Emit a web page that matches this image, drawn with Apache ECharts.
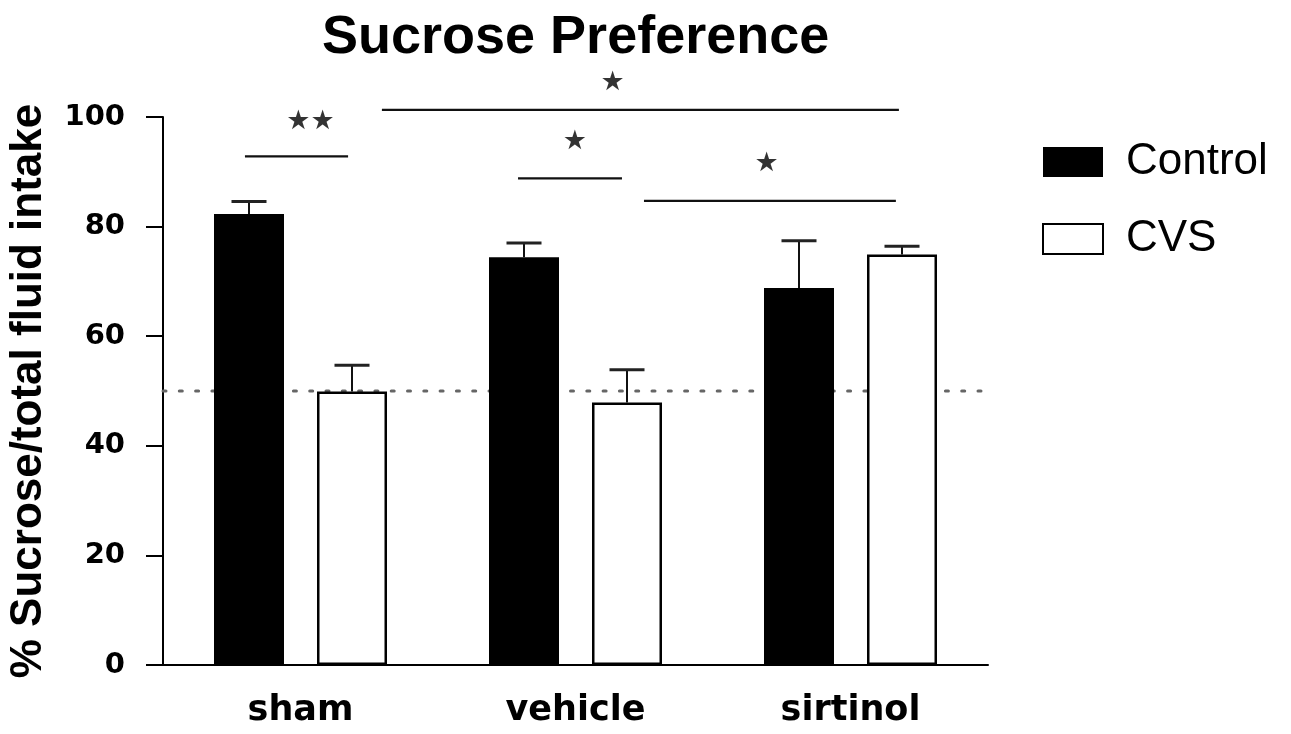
<!DOCTYPE html>
<html><head><meta charset="utf-8">
<script src="https://cdn.jsdelivr.net/npm/echarts@6/dist/echarts.min.js"></script>
<style>html,body{margin:0;padding:0;background:#fff}#c{width:1291px;height:734px}</style>
</head><body><div id="c"></div>
<script>
// ---- data ----
const categories = ['sham', 'vehicle', 'sirtinol'];
const seriesNames = ['Control', 'CVS'];
const controlMean = [82.3, 74.4, 68.8];
const controlSem = [2.3, 2.6, 8.6];
const cvsMean = [49.9, 47.9, 74.9];
const cvsSem = [4.8, 6.0, 1.5];
const yTicks = [0, 20, 40, 60, 80, 100];
const refLevel = 50;
// significance bars: [xStart, xEnd, y] in category units (0..3)
const sigLines = [[0.298, 0.673, 92.8], [0.796, 2.676, 101.3], [1.291, 1.669, 88.8], [1.749, 2.665, 84.7]];
// significance labels: [x, y, text]
const sigStars = [[0.536, 99.1, '★★'], [1.635, 106.2, '★'], [1.498, 95.4, '★'], [2.195, 91.4, '★']];

// ---- style constants ----
const BAR_W = 70, BAR_GAP = 33, CAP = 35;
const chart = echarts.init(document.getElementById('c'), null, {renderer: 'canvas'});

function errSeries(name, means, sems, sign) {
  return {
    type: 'custom', name: name, xAxisIndex: 0, yAxisIndex: 0, z: 4, silent: true, clip: false,
    data: means.map((m, i) => [i, m, m + sems[i]]),
    renderItem: function (params, api) {
      const off = sign * (BAR_W + BAR_GAP) / 2;
      const base = api.coord([api.value(0), api.value(1)]);
      const top = api.coord([api.value(0), api.value(2)]);
      const x = base[0] + off;
      return {type: 'group', children: [
        {type: 'line', shape: {x1: x, y1: base[1], x2: x, y2: top[1]}, style: {stroke: '#111', lineWidth: 2}},
        {type: 'line', shape: {x1: x - CAP / 2, y1: top[1], x2: x + CAP / 2, y2: top[1]}, style: {stroke: '#222', lineWidth: 3}}
      ]};
    }
  };
}

const series = [
  {
    type: 'line', name: 'ref', xAxisIndex: 1, yAxisIndex: 0, z: 1, silent: true,
    data: [[0, refLevel], [3, refLevel]], symbol: 'none',
    lineStyle: {type: [3, 13.3], width: 3, color: '#666', cap: 'round'}
  },
  {
    type: 'bar', name: seriesNames[0], xAxisIndex: 0, data: controlMean, z: 2,
    barWidth: BAR_W, barGap: (BAR_GAP / BAR_W * 100) + '%',
    itemStyle: {color: '#000', borderColor: '#000', borderWidth: 0}
  },
  {
    type: 'bar', name: seriesNames[1], xAxisIndex: 0, data: cvsMean, z: 2,
    barWidth: BAR_W,
    itemStyle: {color: '#fff', borderColor: '#000', borderWidth: 2.5}
  },
  errSeries('errControl', controlMean, controlSem, -1),
  errSeries('errCVS', cvsMean, cvsSem, 1)
];
sigLines.forEach((s, i) => {
  series.push({
    type: 'line', name: 'sig' + i, xAxisIndex: 1, yAxisIndex: 0, z: 3, silent: true, clip: false,
    data: [[s[0], s[2]], [s[1], s[2]]], symbol: 'none',
    lineStyle: {width: 2.2, color: '#111'}
  });
});
series.push({
  type: 'scatter', name: 'stars', xAxisIndex: 1, yAxisIndex: 0, z: 3, silent: true, clip: false,
  data: sigStars.map(s => [s[0], s[1], s[2]]),
  symbolSize: 1, itemStyle: {color: 'rgba(0,0,0,0)'},
  label: {show: true, position: 'inside', formatter: p => p.value[2], offset: [0, 0],
    fontFamily: 'DejaVu Sans', fontSize: 27, color: '#000'}
});

chart.setOption({
  animation: false,
  backgroundColor: '#fff',
  title: {
    text: 'Sucrose Preference', left: 322, top: 11, padding: 0,
    textStyle: {fontFamily: 'Liberation Sans', fontWeight: 'bold', fontSize: 54, color: '#000'}
  },
  legend: {
    data: seriesNames, orient: 'vertical', left: 1042, top: 140, padding: 0,
    itemWidth: 60, itemHeight: 30, itemGap: 33, icon: 'rect', selectedMode: false,
    textStyle: {fontFamily: 'Liberation Sans', fontSize: 44, color: '#000', padding: [0, 0, 0, 18]}
  },
  grid: {left: 163, top: 117, width: 825, height: 548, containLabel: false, outerBoundsMode: 'none'},
  xAxis: [
    {
      type: 'category', data: categories,
      axisLine: {lineStyle: {color: '#000', width: 2}},
      axisTick: {alignWithLabel: true, length: 14, lineStyle: {color: '#000', width: 2}},
      axisLabel: {margin: 28, color: '#000', fontFamily: 'DejaVu Sans', fontWeight: 'bold', fontSize: 35}
    },
    {type: 'value', min: 0, max: 3, show: false}
  ],
  yAxis: {
    type: 'value', min: yTicks[0], max: yTicks[yTicks.length - 1], interval: yTicks[1] - yTicks[0],
    name: '% Sucrose/total fluid intake', nameLocation: 'middle', nameGap: 112, nameRotate: 90,
    nameTextStyle: {fontFamily: 'Liberation Sans', fontWeight: 'bold', fontSize: 44, color: '#000'},
    axisLine: {show: true, lineStyle: {color: '#000', width: 2}},
    axisTick: {show: true, length: 17, lineStyle: {color: '#000', width: 2}},
    splitLine: {show: false},
    axisLabel: {margin: 38, color: '#000', fontFamily: 'DejaVu Sans', fontWeight: 'bold', fontSize: 29}
  },
  series: series
});

const p0 = chart.convertToPixel({xAxisIndex: 1, yAxisIndex: 0}, [0, 0]);
chart.setOption({graphic: [{
  type: 'line', z: 10, silent: true,
  shape: {x1: p0[0] - 17, y1: p0[1], x2: p0[0], y2: p0[1]},
  style: {stroke: '#000', lineWidth: 2}
}]});
</script>
</body></html>
